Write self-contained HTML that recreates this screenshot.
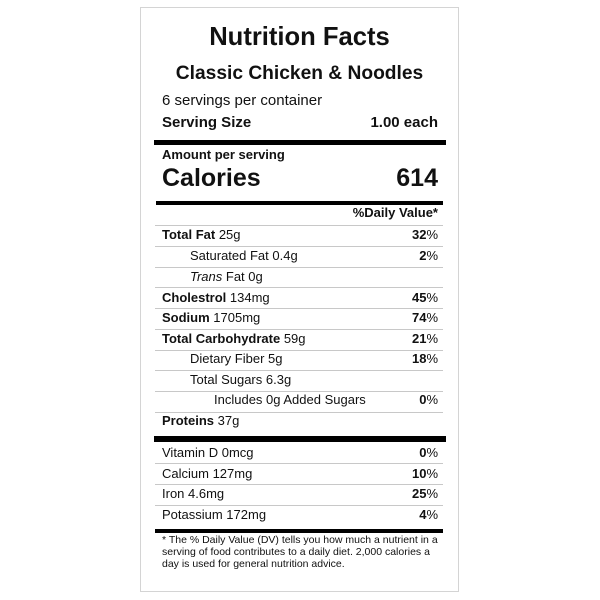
<!DOCTYPE html>
<html>
<head>
<meta charset="utf-8">
<style>
html,body{margin:0;padding:0;background:#fff;}
#c{position:relative;width:600px;height:600px;overflow:hidden;background:#fff;font-family:"Liberation Sans",Arial,sans-serif;color:#111;}
.box{position:absolute;left:140px;top:7px;width:317px;height:583px;border:1.5px solid #d4d4d4;}
.t{position:absolute;white-space:nowrap;}
.r{position:absolute;right:162px;white-space:nowrap;text-align:right;}
.s13{font-size:13px;line-height:13px;}
.thin{position:absolute;left:155px;width:288px;height:1px;background:#c8c8c8;}
.bar{position:absolute;background:#000;}
b{font-weight:bold;}
</style>
</head>
<body>
<div id="c">
<div class="box"></div>

<div class="t" style="left:0;width:599px;text-align:center;top:25.4px;font-size:25.6px;line-height:25.6px;font-weight:bold;">Nutrition Facts</div>
<div class="t" style="left:0;width:599px;text-align:center;top:64px;font-size:19.2px;line-height:19.2px;font-weight:bold;">Classic Chicken &amp; Noodles</div>
<div class="t" style="left:162px;top:93.3px;font-size:15px;line-height:15px;">6 servings per container</div>
<div class="t" style="left:162px;top:115.3px;font-size:15px;line-height:15px;font-weight:bold;">Serving Size</div>
<div class="r" style="top:115.3px;font-size:15px;line-height:15px;font-weight:bold;">1.00 each</div>

<div class="bar" style="left:154px;top:140px;width:292px;height:5px;"></div>

<div class="t" style="left:162px;top:148px;font-size:13px;line-height:13px;font-weight:bold;">Amount per serving</div>
<div class="t" style="left:162px;top:166px;font-size:25px;line-height:25px;font-weight:bold;">Calories</div>
<div class="r" style="top:166px;font-size:25px;line-height:25px;font-weight:bold;">614</div>

<div class="bar" style="left:156px;top:201px;width:287px;height:3.5px;"></div>

<div class="r s13" style="top:206px;font-weight:bold;">%Daily Value*</div>
<div class="thin" style="top:225px;"></div>

<div class="t s13" style="left:162px;top:228px;"><b>Total Fat</b> 25g</div>
<div class="r s13" style="top:228px;"><b>32</b>%</div>
<div class="thin" style="top:246px;"></div>

<div class="t s13" style="left:190px;top:249px;">Saturated Fat 0.4g</div>
<div class="r s13" style="top:249px;"><b>2</b>%</div>
<div class="thin" style="top:266.5px;"></div>

<div class="t s13" style="left:190px;top:269.5px;"><i>Trans</i> Fat 0g</div>
<div class="thin" style="top:287px;"></div>

<div class="t s13" style="left:162px;top:290.5px;"><b>Cholestrol</b> 134mg</div>
<div class="r s13" style="top:290.5px;"><b>45</b>%</div>
<div class="thin" style="top:308px;"></div>

<div class="t s13" style="left:162px;top:311px;"><b>Sodium</b> 1705mg</div>
<div class="r s13" style="top:311px;"><b>74</b>%</div>
<div class="thin" style="top:329px;"></div>

<div class="t s13" style="left:162px;top:331.5px;"><b>Total Carbohydrate</b> 59g</div>
<div class="r s13" style="top:331.5px;"><b>21</b>%</div>
<div class="thin" style="top:350px;"></div>

<div class="t s13" style="left:190px;top:352px;">Dietary Fiber 5g</div>
<div class="r s13" style="top:352px;"><b>18</b>%</div>
<div class="thin" style="top:370px;"></div>

<div class="t s13" style="left:190px;top:373px;">Total Sugars 6.3g</div>
<div class="thin" style="top:391px;"></div>

<div class="t s13" style="left:214px;top:393px;">Includes 0g Added Sugars</div>
<div class="r s13" style="top:393px;"><b>0</b>%</div>
<div class="thin" style="top:412px;"></div>

<div class="t s13" style="left:162px;top:414px;"><b>Proteins</b> 37g</div>

<div class="bar" style="left:154px;top:436px;width:292px;height:6px;"></div>

<div class="t s13" style="left:162px;top:445.5px;">Vitamin D 0mcg</div>
<div class="r s13" style="top:445.5px;"><b>0</b>%</div>
<div class="thin" style="top:463px;"></div>

<div class="t s13" style="left:162px;top:466.5px;">Calcium 127mg</div>
<div class="r s13" style="top:466.5px;"><b>10</b>%</div>
<div class="thin" style="top:484px;"></div>

<div class="t s13" style="left:162px;top:487px;">Iron 4.6mg</div>
<div class="r s13" style="top:487px;"><b>25</b>%</div>
<div class="thin" style="top:505px;"></div>

<div class="t s13" style="left:162px;top:507.5px;">Potassium 172mg</div>
<div class="r s13" style="top:507.5px;"><b>4</b>%</div>

<div class="bar" style="left:155px;top:529px;width:288px;height:3.5px;"></div>

<div class="t" style="left:162px;top:535.1px;font-size:10.5px;line-height:10.5px;">* The % Daily Value (DV) tells you how much a nutrient in a</div>
<div class="t" style="left:162px;top:547.3px;font-size:10.5px;line-height:10.5px;">serving of food contributes to a daily diet. 2,000 calories a</div>
<div class="t" style="left:162px;top:559.3px;font-size:10.5px;line-height:10.5px;">day is used for general nutrition advice.</div>
</div>
</body>
</html>
